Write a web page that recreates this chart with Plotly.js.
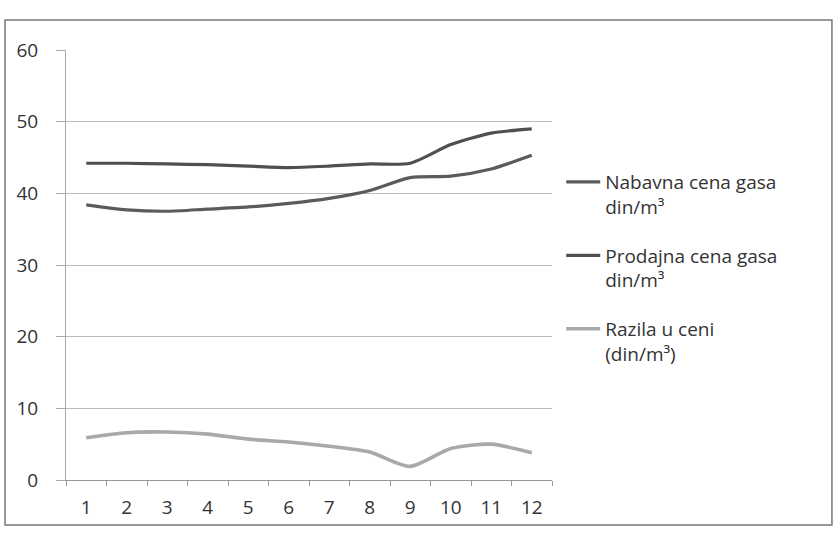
<!DOCTYPE html>
<html>
<head>
<meta charset="utf-8">
<script src="https://cdn.plot.ly/plotly-3.0.1.min.js"></script>
<style>html,body{margin:0;padding:0;background:#fff;}#chart{width:834px;height:533px;}</style>
</head>
<body>
<div id="chart"></div>
<script>
const months = ["1","2","3","4","5","6","7","8","9","10","11","12"];
const nabavna = [38.4, 37.7, 37.5, 37.8, 38.1, 38.6, 39.3, 40.4, 42.2, 42.4, 43.4, 45.3];
const prodajna = [44.2, 44.2, 44.1, 44.0, 43.8, 43.6, 43.8, 44.1, 44.2, 46.8, 48.4, 49.0];
const razlika = [5.9, 6.6, 6.7, 6.4, 5.7, 5.3, 4.7, 3.9, 1.9, 4.4, 5.0, 3.8];
const seriesNames = ["Nabavna cena gasa<br>din/m³", "Prodajna cena gasa<br>din/m³", "Razila u ceni<br>(din/m³)"];
const yTicks = [0, 10, 20, 30, 40, 50, 60];

const font = "Open Sans, Lato, sans-serif";
const traces = [
  {x: months, y: nabavna, name: seriesNames[0], legendgroup: "a", type: "scatter", mode: "lines",
   line: {color: "#5b5b5b", width: 3.2, shape: "spline", smoothing: 0.7}},
  {x: months, y: prodajna, name: seriesNames[1], legendgroup: "b", type: "scatter", mode: "lines",
   line: {color: "#4f4f4f", width: 3.2, shape: "spline", smoothing: 0.7}},
  {x: months, y: razlika, name: seriesNames[2], legendgroup: "c", type: "scatter", mode: "lines",
   line: {color: "#a9a9ad", width: 3.6, shape: "spline", smoothing: 0.7}}
];

const layout = {
  width: 834, height: 533,
  margin: {l: 66, r: 282, t: 50, b: 53},
  paper_bgcolor: "#ffffff", plot_bgcolor: "#ffffff",
  font: {family: font, color: "#333333", size: 19},
  showlegend: true,
  legend: {x: 1.019, xanchor: "left", y: 0.737, yanchor: "top", valign: "top",
    traceorder: "grouped", tracegroupgap: 21, itemwidth: 34,
    font: {family: font, size: 19, color: "#333333"}, bgcolor: "rgba(0,0,0,0)"},
  xaxis: {type: "category", range: [-0.5, 11.5], tickson: "boundaries", ticks: "outside", ticklen: 5, tickcolor: "#999",
    showline: true, linecolor: "#999", linewidth: 1, showgrid: false, zeroline: false,
    tickfont: {size: 19, color: "#333"}, ticklabelstandoff: 10, fixedrange: true},
  yaxis: {range: [0, 60], tickvals: yTicks, ticks: "outside", ticklen: 9, tickcolor: "#aaa",
    showline: true, linecolor: "#aaa", linewidth: 1, showgrid: true, gridcolor: "#bdbdbd", gridwidth: 1,
    zeroline: false, tickfont: {size: 19, color: "#333"}, ticklabelstandoff: 14, fixedrange: true},
  shapes: [
    {type: "rect", xref: "paper", yref: "paper", x0: -0.1255, x1: 1.576, y0: -0.1047, y1: 1.0698,
     line: {color: "#777777", width: 1.5}, fillcolor: "rgba(0,0,0,0)", layer: "below"}
  ]
};

Plotly.newPlot("chart", traces, layout, {staticPlot: true, displayModeBar: false});
</script>
</body>
</html>
